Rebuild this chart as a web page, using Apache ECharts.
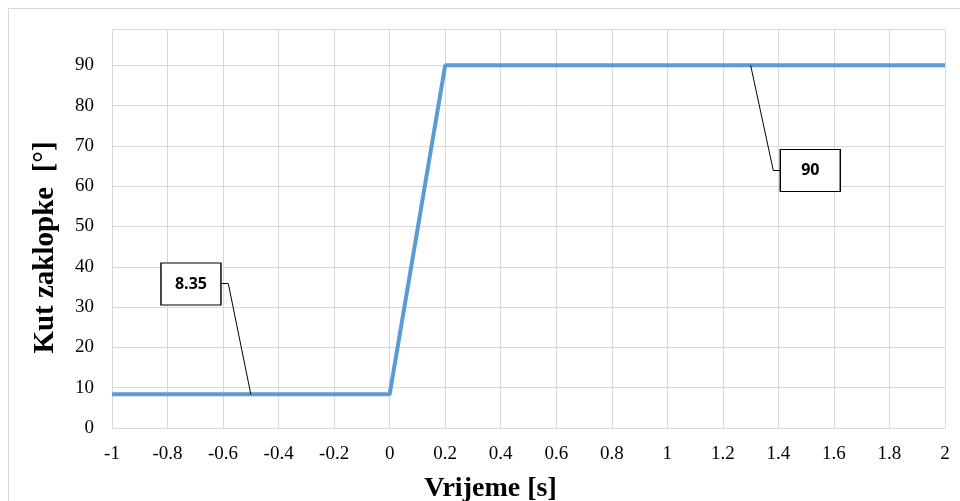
<!DOCTYPE html>
<html>
<head>
<meta charset="utf-8">
<title>Kut zaklopke</title>
<script src="https://cdn.jsdelivr.net/npm/echarts@6/dist/echarts.min.js"></script>
<style>
    html, body {
        margin: 0;
        padding: 0;
        background: #fff;
    }

    #chart {
        width: 960px;
        height: 501px;
    }
</style>
</head>
<body>
<div id="chart"></div>
<script>
// podaci ocitani sa slike
const timeValues = [-1, 0, 0.2, 2];
const angleValues = [8.35, 8.35, 90, 90];
const xTicks = [-1, -0.8, -0.6, -0.4, -0.2, 0, 0.2, 0.4, 0.6, 0.8, 1, 1.2, 1.4, 1.6, 1.8, 2];
const yTicks = [0, 10, 20, 30, 40, 50, 60, 70, 80, 90];
// tocke na kojima stoje oznake vrijednosti
const calloutTimes = [-0.5, 1.3];
const calloutValues = [8.35, 90];

const chart = echarts.init(document.getElementById('chart'));

const serifFont = '"Liberation Serif", "Times New Roman", serif';
const gridColor = '#d9d9d9';

// polozaj okvira oznaka (u koordinatama grafa)
const boxPos = [[-0.7156, 35.7], [1.5148, 63.9]];
const elbowPos = [[-0.581, 35.8], [1.3816, 63.9]];
const edgePos = [[-0.606, 35.8], [1.4068, 63.9]];

const leaderLines = [];
calloutTimes.forEach((t, i) => {
    leaderLines.push([{ coord: [t, calloutValues[i]] }, { coord: elbowPos[i] }]);
    leaderLines.push([{ coord: elbowPos[i] }, { coord: edgePos[i] }]);
});

const option = {
    animation: false,
    // okvir oko cijelog grafa
    graphic: [{
        type: 'rect',
        shape: { x: 8.5, y: 8.5, width: 1000, height: 600 },
        style: { fill: 'none', stroke: gridColor, lineWidth: 1 },
        silent: true
    }],
    grid: {
        left: 112,
        right: 15,
        top: 29,
        bottom: 73,
        outerBoundsMode: 'none'
    },
    xAxis: {
        type: 'value',
        min: xTicks[0],
        max: xTicks[xTicks.length - 1],
        interval: 0.2,
        name: 'Vrijeme [s]',
        nameLocation: 'middle',
        nameGap: 47,
        nameTextStyle: {
            fontFamily: serifFont,
            fontWeight: 'bold',
            fontSize: 28,
            color: '#000',
            padding: [0, 76, 0, 0]
        },
        axisLine: { lineStyle: { color: gridColor } },
        axisTick: { show: false },
        axisLabel: {
            margin: 17,
            fontFamily: serifFont,
            fontSize: 19,
            color: '#000',
            formatter: (v) => String(Math.round(v * 10) / 10)
        },
        splitLine: { show: true, lineStyle: { color: gridColor, width: 1 } }
    },
    yAxis: {
        type: 'value',
        min: yTicks[0],
        max: 99,
        interval: 10,
        name: 'Kut zaklopke  [°]',
        nameLocation: 'middle',
        nameRotate: 90,
        nameGap: 52,
        nameTextStyle: {
            fontFamily: serifFont,
            fontWeight: 'bold',
            fontSize: 29,
            color: '#000',
            padding: [0, 38, 0, 0]
        },
        axisLine: { show: false },
        axisTick: { show: false },
        axisLabel: {
            margin: 18,
            fontFamily: serifFont,
            fontSize: 19,
            color: '#000',
            showMaxLabel: false,
            formatter: (v) => (yTicks.includes(v) ? String(v) : '')
        },
        splitLine: { show: true, lineStyle: { color: gridColor, width: 1 } }
    },
    series: [{
        type: 'line',
        data: timeValues.map((t, i) => [t, angleValues[i]]),
        showSymbol: false,
        symbol: 'none',
        lineStyle: { color: '#5b9bd5', width: 4 },
        z: 3,
        markLine: {
            silent: true,
            symbol: ['none', 'none'],
            label: { show: false },
            lineStyle: { color: '#000', width: 1, type: 'solid' },
            emphasis: { disabled: true },
            data: leaderLines
        },
        markPoint: {
            silent: true,
            symbol: 'rect',
            symbolSize: [60, 42],
            itemStyle: { color: '#fff', borderColor: '#000', borderWidth: 1.2 },
            label: {
                show: true,
                position: 'inside',
                fontFamily: '"Open Sans", sans-serif',
                fontWeight: 'bold',
                fontSize: 16,
                color: '#000'
            },
            data: calloutValues.map((v, i) => ({
                coord: boxPos[i],
                value: String(v)
            }))
        }
    }]
};

chart.setOption(option);
</script>
</body>
</html>
